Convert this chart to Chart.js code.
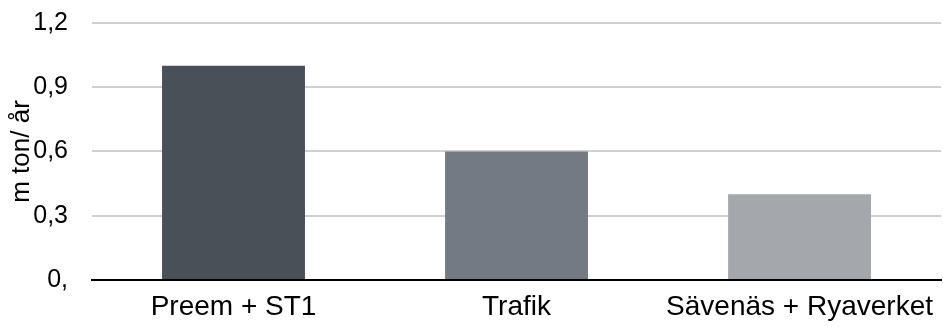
<!DOCTYPE html>
<html>
<head>
<meta charset="utf-8">
<script src="https://cdn.jsdelivr.net/npm/chart.js@4"></script>
<style>
html,body{margin:0;padding:0;background:#fff;}
</style>
</head>
<body>
<canvas id="chart" width="943" height="327"></canvas>
<script>
const categories=["Preem + ST1","Trafik","Sävenäs + Ryaverket"];
const values=[1.0,0.6,0.4];
const barColors=["#495057","#737a83","#a4a8ac"];
const tickLabels=["0,","0,3","0,6","0,9","1,2"];
const yTitle="m ton/ år";

Chart.defaults.font.family="'Liberation Sans', Arial, sans-serif";
Chart.defaults.color="#000";

new Chart(document.getElementById("chart"),{
type:"bar",
data:{
labels:categories,
datasets:[{
data:values,
backgroundColor:barColors,
categoryPercentage:0.505,
barPercentage:1
}]
},
options:{
responsive:false,
animation:false,
layout:{padding:0},
plugins:{legend:{display:false},tooltip:{enabled:false}},
scales:{
x:{
grid:{display:false},
border:{display:true,color:"#000",width:2},
ticks:{padding:10,color:"#000",maxRotation:0,font:{size:28,lineHeight:0.68}}
},
y:{
min:0,max:1.2,
afterFit:s=>{s.width=92;s.paddingTop=23;s.paddingBottom=0;},
grid:{
drawTicks:false,
lineWidth:2,
color:c=>c.tick&&c.tick.value===0?"rgba(0,0,0,0)":"#d0d0d0"
},
border:{display:false},
ticks:{
stepSize:0.3,
padding:24,
color:"#000",
font:{size:25},
callback:(v,i)=>tickLabels[i]
},
title:{display:true,text:yTitle,color:"#000",font:{size:26},padding:{top:6,bottom:0}}
}
}
}
});
</script>
</body>
</html>
